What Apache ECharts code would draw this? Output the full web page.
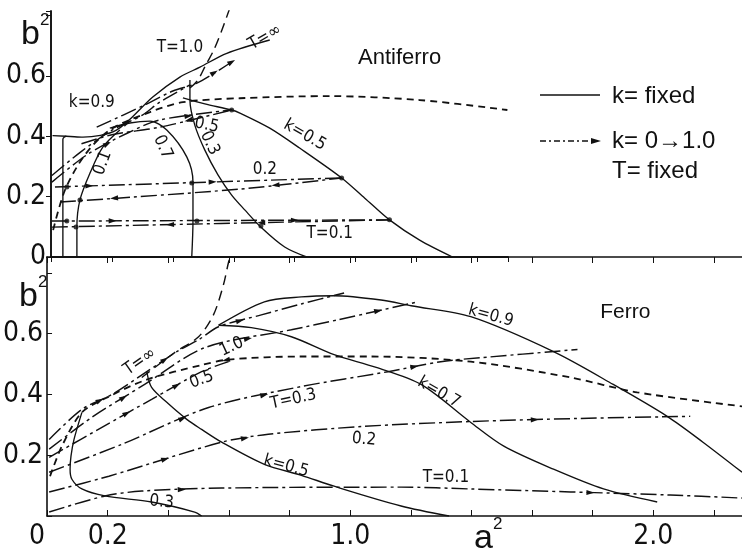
<!DOCTYPE html>
<html><head><meta charset="utf-8">
<script src="https://cdn.jsdelivr.net/npm/echarts@6/dist/echarts.min.js"></script>
<style>html,body{margin:0;padding:0;background:#fff}#c{width:742px;height:551px}</style>
</head><body><div id="c"></div>
<script>
// ================= DATA =================
// Antiferro panel (top): [a^2, b^2]
const afK09 = [[0.039,0],[0.039,0.2],[0.039,0.39],[0.05,0.4],[0.105,0.397],[0.216,0.421],[0.334,0.53],[0.423,0.596],[0.489,0.629],[0.577,0.675],[0.718,0.719]];
const afK09b = [[0.005,0.402],[0.05,0.4]];
const afK07 = [[0.462,0],[0.466,0.12],[0.466,0.248],[0.446,0.331],[0.38,0.421],[0.325,0.45],[0.259,0.444],[0.193,0.427]];
const afK05 = [[0.433,0.527],[0.505,0.507],[0.593,0.487],[0.62,0.477],[0.718,0.427],[0.816,0.361],[0.954,0.262],[1.03,0.195],[1.111,0.123],[1.21,0.056],[1.318,0]];
const afK03 = [[0.456,0.586],[0.456,0.52],[0.472,0.437],[0.505,0.354],[0.548,0.272],[0.593,0.205],[0.636,0.156],[0.692,0.096],[0.767,0.033],[0.839,0]];
const afK01 = [[0.085,0],[0.085,0.099],[0.095,0.189],[0.128,0.278],[0.17,0.364],[0.226,0.421]];
const afT01u = [[0.003,0.119],[1.111,0.123]];
const afT01l = [[0.003,0.099],[1.111,0.123]];
const afT02u = [[0.013,0.232],[0.954,0.262]];
const afT02l = [[0.03,0.182],[0.62,0.225],[0.954,0.262]];
const afT05u = [[0.003,0.248],[0.12,0.34],[0.25,0.41],[0.357,0.454],[0.593,0.487]];
const afT05l = [[0.1,0.375],[0.2,0.405],[0.357,0.43],[0.593,0.487]];
const afT10 = [[0.003,0.27],[0.1,0.35],[0.2,0.42],[0.3,0.47],[0.357,0.513],[0.456,0.57]];
const afTinf = [[0.15,0.43],[0.3,0.5],[0.4,0.55],[0.479,0.576],[0.593,0.646]];
const afHump = [[0.007,0.089],[0.046,0.222],[0.111,0.338],[0.193,0.421],[0.325,0.48],[0.433,0.513],[0.62,0.526],[0.915,0.533],[1.21,0.52],[1.498,0.487]];
const afSteep = [[0.456,0.56],[0.482,0.586],[0.508,0.636],[0.534,0.685],[0.561,0.752],[0.587,0.825]];
const afDots = [[0.954,0.262],[1.111,0.123],[0.593,0.487],[0.689,0.103],[0.052,0.232],[0.462,0.245],[0.052,0.119],[0.479,0.119],[0.082,0.099],[0.095,0.189]];

// Ferro panel (bottom)
const fK09 = [[0.566,0.628],[0.717,0.705],[0.839,0.721],[0.947,0.725],[1.102,0.711],[1.201,0.692],[1.398,0.656],[1.671,0.541],[1.868,0.433],[2.046,0.328],[2.164,0.243],[2.293,0.144]];
const fK07 = [[0.566,0.628],[0.674,0.62],[0.806,0.59],[0.947,0.531],[1.086,0.489],[1.234,0.433],[1.398,0.308],[1.507,0.23],[1.671,0.154],[1.836,0.089],[2.013,0.046]];
const fK05 = [[0.329,0.475],[0.345,0.423],[0.395,0.374],[0.461,0.318],[0.51,0.285],[0.576,0.243],[0.717,0.17],[0.839,0.134],[0.947,0.098],[1.168,0.033],[1.326,0]];
const fK03 = [[0.115,0.341],[0.089,0.252],[0.079,0.197],[0.076,0.154],[0.082,0.121],[0.115,0.089],[0.191,0.066],[0.345,0.046],[0.487,0.013],[0.51,0]];
const fTinf = [[0.007,0.252],[0.115,0.351],[0.214,0.4],[0.329,0.475],[0.428,0.541],[0.5,0.58],[0.566,0.623],[0.707,0.662],[0.839,0.698],[0.98,0.734]];
const fT10 = [[0.007,0.22],[0.148,0.325],[0.322,0.433],[0.52,0.554],[0.806,0.613],[0.961,0.646],[1.224,0.705]];
const fT05 = [[0.007,0.193],[0.181,0.292],[0.345,0.384],[0.51,0.475],[0.599,0.508]];
const fT03 = [[0.007,0.144],[0.247,0.236],[0.533,0.357],[0.839,0.426],[1.125,0.475],[1.299,0.508],[1.431,0.521],[1.75,0.548]];
const fT02 = [[0.007,0.079],[0.204,0.131],[0.576,0.243],[0.73,0.269],[1.046,0.295],[1.398,0.311],[1.75,0.321],[2.122,0.328]];
const fT01 = [[0.007,0.013],[0.191,0.066],[0.313,0.082],[0.576,0.092],[1.168,0.095],[1.398,0.089],[2.056,0.069],[2.293,0.059]];
const fHump = [[0.01,0.131],[0.049,0.23],[0.115,0.341],[0.204,0.393],[0.329,0.449],[0.51,0.497],[0.599,0.515],[0.839,0.525],[1.069,0.525],[1.398,0.508],[1.727,0.456],[1.947,0.407],[2.293,0.361]];
const fSteep = [[0.3125,0.456],[0.421,0.538],[0.5,0.59],[0.549,0.662],[0.582,0.761],[0.599,0.836],[0.605,0.852]];

// tick labels
const afYTicks = [0, 0.2, 0.4, 0.6];
const fYTicks = [0.2, 0.4, 0.6];
const fXTicks = [0, 0.2, 1.0, 2.0];

// annotation texts: [panel, a, b, text, rotationDeg(ccw), size]
const notes = [
  [0, 1.144, 0.659, 'Antiferro', 0, 22],
  [0, 0.423, 0.695, 'T=1.0', 0, 17],
  [0, 0.702, 0.728, 'T=\u221E', 30, 17],
  [0, 0.134, 0.51, 'k=0.9', 0, 17],
  [0, 0.17, 0.311, '0.1', 70, 17],
  [0, 0.367, 0.364, '0.7', -65, 17],
  [0, 0.511, 0.437, '0.5', -12, 17],
  [0, 0.521, 0.377, '0.3', -65, 17],
  [0, 0.833, 0.404, 'k=0.5', -30, 17],
  [0, 0.702, 0.288, '0.2', 0, 17],
  [0, 0.915, 0.079, 'T=0.1', 0, 17],
  [1, 1.908, 0.672, 'Ferro', 0, 21],
  [1, 0.306, 0.508, 'T=\u221E', 35, 17],
  [1, 0.609, 0.557, '1.0', 25, 17],
  [1, 0.51, 0.449, '0.5', 20, 17],
  [1, 0.8125, 0.384, 'T=0.3', 12, 17],
  [1, 1.046, 0.252, '0.2', -5, 17],
  [1, 0.789, 0.164, 'k=0.5', -15, 17],
  [1, 1.316, 0.128, 'T=0.1', 0, 17],
  [1, 0.378, 0.046, '0.3', -5, 17],
  [1, 1.293, 0.407, 'k=0.7', -30, 17],
  [1, 1.464, 0.659, 'k=0.9', -15, 17]
];

// ================= CHART =================
const FONT = "'Liberation Sans Narrow','DejaVu Sans Condensed','Liberation Sans',sans-serif";
const FONT2 = "'Liberation Sans','DejaVu Sans',sans-serif";
const SOLID = 'solid', TD = [16,4,3,4], HUMP = [7,5], STEEP = [10,6];
const chart = echarts.init(document.getElementById('c'), null, {renderer: 'canvas'});

function ln(data, panel, type, arrows) {
  const w = type === HUMP ? 1.8 : (type === SOLID ? 1.35 : 1.45);
  return {type: 'line', xAxisIndex: panel ? 2 : 0, yAxisIndex: panel ? 2 : 0, data: data,
    symbol: 'none', showSymbol: false, smooth: 0.3, silent: true, animation: false,
    lineStyle: {color: '#111', width: w, type: type}, arrows: arrows || []};
}
const seriesDefs = [
  ln(afK09, 0, SOLID), ln(afK09b, 0, SOLID), ln(afK07, 0, SOLID), ln(afK05, 0, SOLID), ln(afK03, 0, SOLID), ln(afK01, 0, SOLID),
  ln(afT01u, 0, TD, [[0,0.18,1],[0,0.72,1]]), ln(afT01l, 0, TD, [[0,0.35,-1],[0,0.62,-1]]),
  ln(afT02u, 0, TD, [[0,0.12,1],[0,0.55,1]]), ln(afT02l, 0, TD, [[0,0.3,-1],[1,0.35,-1]]),
  ln(afT05u, 0, TD, [[1,0.5,1],[3,0.4,1]]), ln(afT05l, 0, TD, [[2,0.4,-1]]),
  ln(afT10, 0, TD, [[2,0.5,1]]), ln(afTinf, 0, TD, [[3,0.5,1],[3,1.0,1]]),
  ln(afHump, 0, HUMP), ln(afSteep, 0, STEEP),
  ln(fK09, 1, SOLID), ln(fK07, 1, SOLID), ln(fK05, 1, SOLID), ln(fK03, 1, SOLID),
  ln(fTinf, 1, TD, [[1,0.6,1],[3,0.6,1],[6,0.5,1]]), ln(fT10, 1, TD, [[1,0.6,1],[3,0.5,1],[5,0.5,1]]),
  ln(fT05, 1, TD, [[1,0.5,1],[2,0.5,1]]), ln(fT03, 1, TD, [[1,0.7,1],[2,0.6,1],[4,0.5,1]]),
  ln(fT02, 1, TD, [[1,0.5,1],[2,0.5,1],[5,0.6,1]]), ln(fT01, 1, TD, [[2,0.5,1],[5,0.6,1]]),
  ln(fHump, 1, HUMP, [[5,0.9,-1]]), ln(fSteep, 1, STEEP)
];
const series = seriesDefs.map(s => { const c = Object.assign({}, s); delete c.arrows; return c; });
series.push({type: 'scatter', xAxisIndex: 0, yAxisIndex: 0, data: afDots, symbol: 'circle', symbolSize: 5,
  itemStyle: {color: '#111'}, silent: true, animation: false});

function fmt(list) { return v => { const r = Math.round(v * 10) / 10; return list.some(t => Math.abs(t - r) < 1e-6) ? (r === 0 ? '0' : r.toFixed(1)) : ''; }; }
const axLine = {show: true, lineStyle: {color: '#111', width: 1.6}};
const lab = {fontFamily: FONT, fontSize: 28, color: '#111'};

chart.setOption({
  backgroundColor: '#fff',
  animation: false,
  grid: [
    {left: 51, top: 11, width: 457, height: 246},
    {left: 45, top: 257, width: 697, height: 260}
  ],
  xAxis: [
    {gridIndex: 0, type: 'value', min: 0, max: 1.5, interval: 0.2, position: 'bottom', axisLine: axLine,
      axisTick: {show: true, inside: false, length: 5, lineStyle: {color: '#111'}}, axisLabel: {show: false}, splitLine: {show: false}},
    {gridIndex: 0, type: 'value', min: 0, max: 1.5, interval: 0.2, position: 'top', axisLine: axLine,
      axisTick: {show: true, inside: true, length: 5, lineStyle: {color: '#111'}}, axisLabel: {show: false}, splitLine: {show: false}},
    {gridIndex: 1, type: 'value', min: 0, max: 2.2928, interval: 0.2, position: 'bottom', axisLine: axLine,
      axisTick: {show: true, inside: true, length: 6, lineStyle: {color: '#111'}},
      axisLabel: Object.assign({}, lab, {margin: 7, showMaxLabel: false,
        formatter: v => { const s = fmt(fXTicks)(v); return s === '0' ? '{z|0}' : s; },
        rich: {z: {fontFamily: FONT, fontSize: 28, color: '#111', padding: [0, 20, 0, 0]}}}),
      splitLine: {show: false}},
    {gridIndex: 1, type: 'value', min: 0, max: 2.2928, interval: 0.2, position: 'top', axisLine: axLine,
      axisTick: {show: true, inside: true, length: 6, lineStyle: {color: '#111'}}, axisLabel: {show: false}, splitLine: {show: false}}
  ],
  yAxis: [
    {gridIndex: 0, type: 'value', min: 0, max: 0.815, interval: 0.2, position: 'left', axisLine: axLine,
      axisTick: {show: true, inside: false, length: 4, lineStyle: {color: '#111'}},
      axisLabel: Object.assign({}, lab, {margin: 5, formatter: fmt(afYTicks)}), splitLine: {show: false}},
    {gridIndex: 0, type: 'value', min: 0, max: 0.815, interval: 0.2, position: 'right', axisLine: axLine,
      axisTick: {show: true, inside: true, length: 5, lineStyle: {color: '#111'}}, axisLabel: {show: false}, splitLine: {show: false}},
    {gridIndex: 1, type: 'value', min: 0, max: 0.8525, interval: 0.2, position: 'left', axisLine: axLine,
      axisTick: {show: true, inside: true, length: 5, lineStyle: {color: '#111'}},
      axisLabel: Object.assign({}, lab, {margin: 4, formatter: fmt(fYTicks)}), splitLine: {show: false}}
  ],
  series: series
});

// ---- overlays: arrows, annotation text, axis titles, legend ----
function px(panel, p) {
  return chart.convertToPixel(panel ? {xAxisIndex: 2, yAxisIndex: 2} : {xAxisIndex: 0, yAxisIndex: 0}, p);
}
function arrowShape(x, y, ang, len, hw) {
  const c = Math.cos(ang), s = Math.sin(ang);
  return [[x + c * len, y + s * len], [x - c * len - s * hw, y - s * len + c * hw], [x - c * len + s * hw, y - s * len - c * hw]];
}
const g = [];
seriesDefs.forEach(sd => {
  const panel = sd.xAxisIndex === 2 ? 1 : 0;
  sd.arrows.forEach(([seg, t, dir]) => {
    const p0 = px(panel, sd.data[seg]), p1 = px(panel, sd.data[seg + 1]);
    const x = p0[0] + (p1[0] - p0[0]) * t, y = p0[1] + (p1[1] - p0[1]) * t;
    let ang = Math.atan2(p1[1] - p0[1], p1[0] - p0[0]);
    if (dir < 0) ang += Math.PI;
    g.push({type: 'polygon', shape: {points: arrowShape(x, y, ang, 4, 2.6)}, style: {fill: '#111'}, silent: true, z: 10});
  });
});
notes.forEach(([panel, a, b, t, deg, size]) => {
  const p = px(panel, [a, b]);
  const big = (t === 'Antiferro' || t === 'Ferro');
  g.push({type: 'text', x: p[0], y: p[1], rotation: deg * Math.PI / 180, z: 20,
    style: {text: t, fontFamily: big ? FONT2 : FONT, fontSize: size, fill: '#111',
      align: 'center', verticalAlign: 'middle'}});
});
function sup(x, y, base, s2) {
  g.push({type: 'text', x: x, y: y, z: 20, style: {text: base, fontFamily: FONT2, fontSize: 34, fill: '#111', align: 'left', verticalAlign: 'top'}});
  g.push({type: 'text', x: x + 19, y: y - 6, z: 20, style: {text: s2, fontFamily: FONT2, fontSize: 17, fill: '#111', align: 'left', verticalAlign: 'top'}});
}
sup(21, 18, 'b', '2');
sup(19, 280, 'b', '2');
sup(474, 522, 'a', '2');
// legend
g.push({type: 'line', shape: {x1: 540, y1: 95, x2: 600, y2: 95}, style: {stroke: '#111', lineWidth: 1.5}});
g.push({type: 'line', shape: {x1: 540, y1: 141, x2: 596, y2: 141}, style: {stroke: '#111', lineWidth: 1.3, lineDash: [6, 3, 2, 3]}});
g.push({type: 'polygon', shape: {points: arrowShape(596, 141, 0, 5, 3)}, style: {fill: '#111'}});
g.push({type: 'text', x: 612, y: 96, style: {text: 'k= fixed', fontFamily: FONT2, fontSize: 24, fill: '#111', verticalAlign: 'middle'}});
g.push({type: 'text', x: 612, y: 141, style: {text: 'k= 0\u21921.0', fontFamily: FONT2, fontSize: 24, fill: '#111', verticalAlign: 'middle'}});
g.push({type: 'text', x: 612, y: 171, style: {text: 'T= fixed', fontFamily: FONT2, fontSize: 24, fill: '#111', verticalAlign: 'middle'}});
chart.setOption({graphic: g});
</script>
</body></html>
